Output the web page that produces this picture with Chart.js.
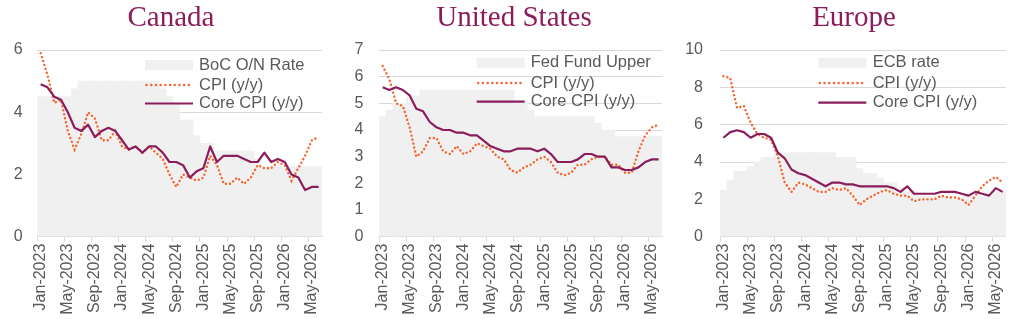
<!DOCTYPE html>
<html><head><meta charset="utf-8">
<script src="https://cdn.jsdelivr.net/npm/chart.js@4.4.1/dist/chart.umd.min.js"></script>
<style>
html,body{margin:0;padding:0;background:#fff;}
#wrap{position:relative;width:1024px;height:319px;overflow:hidden;background:#fff;}
canvas{position:absolute;top:0;}
</style></head><body>
<div id="wrap">
<canvas id="c0" width="340" height="319" style="left:0px"></canvas>
<canvas id="c1" width="340" height="319" style="left:340px"></canvas>
<canvas id="c2" width="344" height="319" style="left:680px"></canvas>
</div>
<script>
// ---- Data ----
const months = [
  "Jan-2023","Feb-2023","Mar-2023","Apr-2023","May-2023","Jun-2023","Jul-2023","Aug-2023","Sep-2023","Oct-2023","Nov-2023","Dec-2023",
  "Jan-2024","Feb-2024","Mar-2024","Apr-2024","May-2024","Jun-2024","Jul-2024","Aug-2024","Sep-2024","Oct-2024","Nov-2024","Dec-2024",
  "Jan-2025","Feb-2025","Mar-2025","Apr-2025","May-2025","Jun-2025","Jul-2025","Aug-2025","Sep-2025","Oct-2025","Nov-2025","Dec-2025",
  "Jan-2026","Feb-2026","Mar-2026","Apr-2026","May-2026","Jun-2026"
];

const canadaRate = [4.5,4.5,4.5,4.5,4.5,4.75,5,5,5,5,5,5,5,5,5,5,5,5,4.75,4.5,4.25,3.75,3.75,3.25,3,3,2.75,2.75,2.75,2.75,2.75,2.75,2.5,2.25,2.25,2.25,2.25,2.25,2.25,2.25,2.25,2.25];
const canadaCPI  = [5.9,5.2,4.3,4.4,3.4,2.8,3.3,4.0,3.8,3.1,3.1,3.4,2.9,2.8,2.9,2.7,2.9,2.7,2.5,2.0,1.6,2.0,1.9,1.8,1.9,2.6,2.3,1.7,1.7,1.9,1.7,1.9,2.3,2.2,2.2,2.4,2.3,1.8,2.2,2.6,3.1,3.2];
const canadaCore = [4.9,4.8,4.5,4.4,4.0,3.5,3.4,3.6,3.2,3.4,3.5,3.4,3.1,2.8,2.9,2.7,2.9,2.9,2.7,2.4,2.4,2.3,1.9,2.1,2.2,2.9,2.4,2.6,2.6,2.6,2.5,2.4,2.4,2.7,2.4,2.5,2.4,2.0,1.9,1.5,1.6,1.6];

const usRate = [4.5,4.75,5,5,5.25,5.25,5.5,5.5,5.5,5.5,5.5,5.5,5.5,5.5,5.5,5.5,5.5,5.5,5.5,5.5,5,5,4.75,4.5,4.5,4.5,4.5,4.5,4.5,4.5,4.5,4.5,4.25,4,4,3.75,3.75,3.75,3.75,3.75,3.75,3.75];
const usCPI  = [6.4,5.9,5.0,4.9,4.1,3.0,3.2,3.7,3.7,3.2,3.1,3.4,3.1,3.2,3.5,3.4,3.3,3.0,2.9,2.5,2.4,2.6,2.7,2.9,3.0,2.8,2.4,2.3,2.4,2.7,2.7,2.9,3.0,3.0,2.7,2.7,2.4,2.4,3.2,3.8,4.1,4.2];
const usCore = [5.6,5.5,5.6,5.5,5.3,4.8,4.7,4.3,4.1,4.0,4.0,3.9,3.9,3.8,3.8,3.6,3.4,3.3,3.2,3.2,3.3,3.3,3.3,3.2,3.3,3.1,2.8,2.8,2.8,2.9,3.1,3.1,3.0,3.0,2.6,2.6,2.5,2.5,2.6,2.8,2.9,2.9];

const euRate = [2.5,3,3.5,3.5,3.75,4,4.25,4.25,4.5,4.5,4.5,4.5,4.5,4.5,4.5,4.5,4.5,4.25,4.25,4.25,3.65,3.4,3.4,3.15,2.9,2.9,2.65,2.4,2.4,2.15,2.15,2.15,2.15,2.15,2.15,2.15,2.15,2.15,2.15,2.15,2.4,2.4];
const euCPI  = [8.6,8.5,6.9,7.0,6.1,5.5,5.3,5.2,4.3,2.9,2.4,2.9,2.8,2.6,2.4,2.4,2.6,2.5,2.6,2.2,1.7,2.0,2.2,2.4,2.5,2.3,2.2,2.2,1.9,2.0,2.0,2.0,2.2,2.1,2.1,2.0,1.7,2.2,2.7,3.0,3.2,2.9];
const euCore = [5.3,5.6,5.7,5.6,5.3,5.5,5.5,5.3,4.5,4.2,3.6,3.4,3.3,3.1,2.9,2.7,2.9,2.9,2.8,2.8,2.7,2.7,2.7,2.7,2.7,2.6,2.4,2.7,2.3,2.3,2.3,2.3,2.4,2.4,2.4,2.3,2.2,2.4,2.3,2.2,2.6,2.4];

const yTicksCanada = {max: 6, step: 2};
const yTicksUS = {max: 7, step: 1};
const yTicksEU = {max: 10, step: 2};

// ---- Styles ----
const AREA = '#eff0ef';
const ORANGE = '#f7652f';
const PURPLE = '#8c1d5d';
const GREY_TEXT = '#595959';
const GRID = '#d9d9d9';

const legendPlugin = {
  id: 'insideLegend',
  afterDraw(chart, args, opts) {
    const ctx = chart.ctx;
    ctx.save();
    ctx.font = opts.font;
    ctx.textBaseline = 'middle';
    ctx.textAlign = 'left';
    chart.data.datasets.forEach((ds, i) => {
      const y = opts.rows[i];
      const x0 = opts.swatchX, x1 = opts.swatchX + opts.swatchW;
      if (ds.type === 'bar') {
        ctx.fillStyle = ds.backgroundColor;
        ctx.fillRect(x0, y - 5, opts.swatchW, 10);
      } else {
        ctx.beginPath();
        ctx.strokeStyle = ds.borderColor;
        ctx.lineWidth = ds.borderWidth;
        ctx.lineCap = ds.borderCapStyle || 'butt';
        ctx.setLineDash(ds.borderDash ? opts.legendDash : []);
        ctx.moveTo(x0 + (ds.borderDash ? 1.5 : 0), y);
        ctx.lineTo(x1, y);
        ctx.stroke();
        ctx.setLineDash([]);
      }
      ctx.fillStyle = GREY_TEXT;
      ctx.fillText(ds.label, opts.textX, y);
    });
    ctx.restore();
  }
};

function makeChart(id, cfg) {
  new Chart(document.getElementById(id), {
    type: 'bar',
    data: {
      labels: months,
      datasets: [
        {type: 'bar', label: cfg.rateLabel, data: cfg.rate, backgroundColor: AREA, borderWidth: 0,
         barPercentage: 1, categoryPercentage: 1, order: 3},
        {type: 'line', label: 'CPI (y/y)', data: cfg.cpi, borderColor: ORANGE, borderWidth: 2.4,
         borderDash: [0.1, 4], borderCapStyle: 'round', pointRadius: 0, tension: 0, fill: false, order: 2},
        {type: 'line', label: 'Core CPI (y/y)', data: cfg.core, borderColor: PURPLE, borderWidth: 2.2,
         borderJoinStyle: 'round', pointRadius: 0, tension: 0, fill: false, order: 1}
      ]
    },
    options: {
      responsive: false, animation: false, devicePixelRatio: 1,
      layout: {padding: {left: cfg.padLeft, right: 0, top: 0, bottom: 0}},
      plugins: {
        legend: {display: false},
        tooltip: {enabled: false},
        title: {display: true, text: cfg.title, color: PURPLE,
                font: {family: "'Liberation Serif', 'Times New Roman', serif", size: 29, weight: 'normal', lineHeight: 1.2},
                padding: {top: 1, bottom: 14.2}},
        insideLegend: {font: "16.5px 'Liberation Sans', Arial, sans-serif", swatchX: cfg.swatchX, swatchW: 48,
                       textX: cfg.textX, rows: cfg.rows, legendDash: [0.1, 4.6]}
      },
      scales: {
        x: {
          offset: true,
          grid: {offset: true, drawOnChartArea: false, drawTicks: true, tickLength: 5,
                 tickColor: c => (c.index !== undefined && c.index % 4 === 0 ? GRID : 'rgba(0,0,0,0)')},
          border: {display: true, color: GRID, width: 1},
          ticks: {autoSkip: false, maxRotation: 90, minRotation: 90, padding: 2, color: GREY_TEXT,
                  font: {family: "'Liberation Sans', Arial, sans-serif", size: 16},
                  callback: (v, i) => (i % 4 === 0 ? months[i] : '')},
          afterFit: s => { s.height = 82.3; }
        },
        y: {
          min: 0, max: cfg.yt.max,
          ticks: {stepSize: cfg.yt.step, padding: cfg.ypad, color: GREY_TEXT,
                  font: {family: "'Liberation Sans', Arial, sans-serif", size: 16}},
          grid: {color: GRID, drawTicks: false, lineWidth: 1},
          border: {display: false},
          afterFit: s => { s.width = cfg.yw; }
        },
        yR: {
          position: 'right', display: true,
          ticks: {display: false}, grid: {display: false}, border: {display: false},
          afterFit: s => { s.width = cfg.padRight; }
        }
      }
    },
    plugins: [legendPlugin]
  });
}

makeChart('c0', {title: 'Canada', rateLabel: 'BoC O/N Rate', rate: canadaRate, cpi: canadaCPI, core: canadaCore,
  yt: yTicksCanada, padLeft: 2, yw: 35.3, ypad: 14.6, padRight: 15,
  swatchX: 145, textX: 199, rows: [65, 85, 103.5]});
makeChart('c1', {title: 'United States', rateLabel: 'Fed Fund Upper', rate: usRate, cpi: usCPI, core: usCore,
  yt: yTicksUS, padLeft: 8, yw: 31.3, ypad: 16, padRight: 13.3,
  swatchX: 136.7, textX: 190.7, rows: [62.7, 83, 101.7]});
makeChart('c2', {title: 'Europe', rateLabel: 'ECB rate', rate: euRate, cpi: euCPI, core: euCore,
  yt: yTicksEU, padLeft: 4, yw: 36, ypad: 17, padRight: 17.3,
  swatchX: 138.3, textX: 192.7, rows: [62.7, 83, 102.7]});
</script>
</body></html>
